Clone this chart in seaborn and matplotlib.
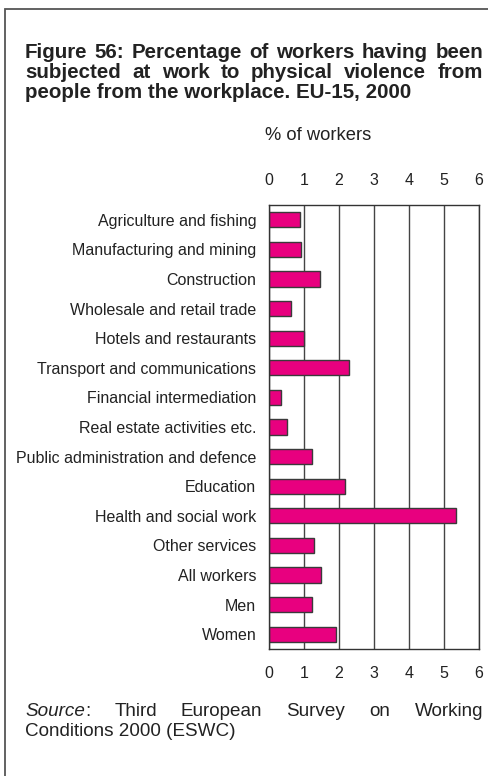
import matplotlib
matplotlib.use('Agg')
import matplotlib.pyplot as plt
import matplotlib.patches as patches
import seaborn as sns
import pandas as pd

sectors = ['Agriculture and fishing', 'Manufacturing and mining', 'Construction',
           'Wholesale and retail trade', 'Hotels and restaurants',
           'Transport and communications', 'Financial intermediation',
           'Real estate activities etc.', 'Public administration and defence',
           'Education', 'Health and social work', 'Other services',
           'All workers', 'Men', 'Women']
pct_workers = [0.9, 0.93, 1.46, 0.63, 1.01, 2.3, 0.36, 0.53, 1.23, 2.17, 5.33, 1.3, 1.5, 1.23, 1.91]
x_ticks = [0, 1, 2, 3, 4, 5, 6]

title_lines = ['Figure 56: Percentage of workers having been',
               'subjected at work to physical violence from',
               'people from the workplace. EU-15, 2000']

df = pd.DataFrame({'sector': sectors, 'pct': pct_workers})

sns.set_style('white')
plt.rcParams['font.family'] = ['Liberation Sans', 'DejaVu Sans']

W, H = 488, 776
fig = plt.figure(figsize=(W / 100, H / 100), dpi=100)
ax = fig.add_axes([268.7 / W, 1 - 649 / H, (479 - 268.7) / W, (649 - 205) / H])

sns.barplot(data=df, x='pct', y='sector', orient='h', color='#E8007F',
            edgecolor='#3a3a3a', linewidth=1, width=0.52, saturation=1, ax=ax)

ax.set_xlim(0, 6)
ax.set_xticks(x_ticks)
ax.set_ylim(len(sectors) - 0.5, -0.5)
ax.xaxis.grid(True, color='#444444', linewidth=1)
ax.set_axisbelow(True)
ax.tick_params(axis='x', top=False, bottom=False, labeltop=True, labelbottom=True,
               labelsize=11.5, colors='#222222', pad=9)
ax.tick_params(axis='y', length=0, labelsize=11.5, labelcolor='#222222', pad=9)
ax.set_yticks([i + 0.5 for i in range(len(sectors))], minor=True)
ax.tick_params(axis='y', which='minor', length=4, color='#333333', width=1)
for s in ax.spines.values():
    s.set_visible(True)
    s.set_color('#333333')
    s.set_linewidth(1)
ax.set_xlabel('')
ax.set_ylabel('')

# outer frame
fig.patches.append(patches.Rectangle((5 / W, -0.1), 1.2, 1 - 9 / H + 0.1,
                                     transform=fig.transFigure, fill=False,
                                     edgecolor='#555555', linewidth=1.3))

renderer = fig.canvas.get_renderer()


def justify(words, y, x0, x1, size, weight='normal'):
    # words: list of lists of (text, style)
    placed = []
    widths = []
    for w in words:
        parts = []
        tw = 0
        for txt, style in w:
            t = fig.text(0, 0, txt, fontsize=size, fontweight=weight, fontstyle=style,
                         color='#222222', va='center', ha='left')
            bb = t.get_window_extent(renderer)
            parts.append((t, tw))
            tw += bb.width
        placed.append(parts)
        widths.append(tw)
    gap = (x1 - x0 - sum(widths)) / max(len(words) - 1, 1)
    x = x0
    for parts, wd in zip(placed, widths):
        for t, off in parts:
            t.set_position(((x + off) / W, 1 - y / H))
        x += wd + gap


def simple(line):
    return [[(w, 'normal')] for w in line.split()]


justify(simple(title_lines[0]), 52, 25, 483, 14.8, 'bold')
justify(simple(title_lines[1]), 72, 25, 483, 14.8, 'bold')
fig.text(25 / W, 1 - 92 / H, title_lines[2], fontsize=14.8, fontweight='bold',
         color='#222222', va='center', ha='left')

fig.text(318 / W, 1 - 135 / H, '% of workers', fontsize=13.2, color='#222222',
         ha='center', va='center')

src_words = [[('Source', 'italic'), (':', 'normal')]] + simple('Third European Survey on Working')
justify(src_words, 712, 25, 483, 13.6)
fig.text(25 / W, 1 - 732 / H, 'Conditions 2000 (ESWC)', fontsize=13.6, color='#222222',
         ha='left', va='center')

fig.savefig('out.png', dpi=100)
